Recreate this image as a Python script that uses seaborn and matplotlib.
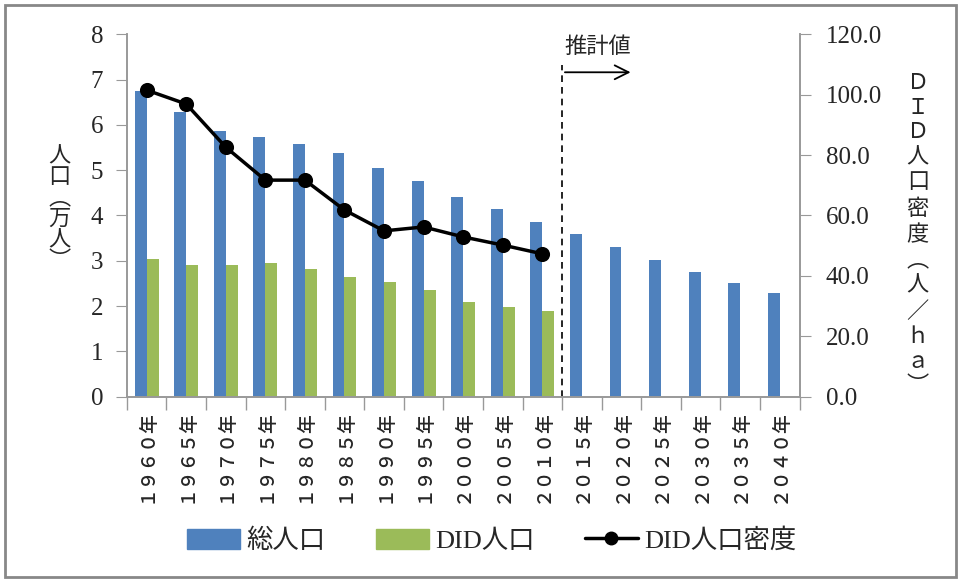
import numpy as np
import pandas as pd
import matplotlib
matplotlib.use('Agg')
import matplotlib.pyplot as plt
import seaborn as sns
from matplotlib.patches import Patch, Rectangle
from matplotlib.lines import Line2D

# data
years = ['１９６０年', '１９６５年', '１９７０年', '１９７５年', '１９８０年', '１９８５年',
         '１９９０年', '１９９５年', '２０００年', '２００５年', '２０１０年', '２０１５年',
         '２０２０年', '２０２５年', '２０３０年', '２０３５年', '２０４０年']
total_pop = [6.74, 6.28, 5.86, 5.73, 5.57, 5.37, 5.04, 4.76, 4.41, 4.14, 3.85,
             3.59, 3.30, 3.02, 2.75, 2.51, 2.29]
did_pop = [3.04, 2.91, 2.91, 2.95, 2.82, 2.65, 2.53, 2.36, 2.10, 1.99, 1.90]
did_density = [101.5, 96.9, 82.6, 71.7, 71.7, 61.8, 54.9, 56.2, 52.9, 50.2, 47.3]
series = ['総人口', 'DID人口', 'DID人口密度']

sns.set_style('white')
fam = ['Liberation Serif', 'Noto Sans CJK JP', 'DejaVu Sans']
plt.rcParams['font.family'] = fam

df = pd.concat([
    pd.DataFrame({'year': years, 'value': total_pop, 'series': series[0]}),
    pd.DataFrame({'year': years[:len(did_pop)], 'value': did_pop, 'series': series[1]}),
])

fig = plt.figure(figsize=(9.61, 5.8), dpi=100)
ax = fig.add_axes([0.132, 0.316, 0.700, 0.625])
ax2 = ax.twinx()

sns.barplot(data=df, x='year', y='value', hue='series', order=years,
            hue_order=series[:2], palette=['#4F81BD', '#9BBB59'], width=0.6,
            saturation=1, errorbar=None, linewidth=0, legend=False, ax=ax)
sns.pointplot(x=years[:len(did_density)], y=did_density, order=years, color='black',
              markersize=9, linewidth=2.5, errorbar=None, ax=ax2)

ax.set_ylim(0, 8)
ax.set_yticks(range(0, 9))
ax2.set_ylim(0, 120)
ax2.set_yticks(np.arange(0, 121, 20))
ax2.set_yticklabels([f'{v:.1f}' for v in np.arange(0, 121, 20)])
ax.set_xlim(-0.5, len(years) - 0.5)
ax.set_xticks(range(len(years)))
ax.set_xticklabels(years, rotation=90, fontsize=13.5, fontweight='medium')
ax.set_xticks(np.arange(-0.5, len(years), 1), minor=True)
ax.tick_params(axis='x', which='major', length=0, pad=9)
ax.tick_params(axis='x', which='minor', length=9, color='#999999', width=1, bottom=True)
ax.tick_params(axis='y', length=8, color='#999999', labelsize=18, left=True, pad=9)
ax2.tick_params(axis='y', length=8, color='#999999', labelsize=18, right=True, pad=11)
ax.set_xlabel('')
ax.set_ylabel('')
ax2.set_ylabel('')
ax2.set_xlabel('')

for a in (ax, ax2):
    a.spines['top'].set_visible(False)
    for s in ('left', 'right', 'bottom'):
        a.spines[s].set_color('#999999')
        a.spines[s].set_linewidth(1.2)
ax.grid(False)
ax2.grid(False)

# projection marker
ax.axvline(10.5, ymin=0, ymax=0.915, color='black', linestyle=(0, (4, 3)), linewidth=1.2)
ax.annotate('', xy=(12.3, 7.16), xytext=(10.5, 7.16),
            arrowprops=dict(arrowstyle='->', color='black', lw=1.3, mutation_scale=25))
ax.text(10.55, 7.7, '推計値', fontsize=16, va='center', ha='left')

# vertical axis titles
fig.text(0.062, 0.638, '\n'.join(['人', '口', '︵', '万', '人', '︶']),
         ha='center', va='center', fontsize=16, linespacing=1.13)
fig.text(0.955, 0.593, '\n'.join(['Ｄ', 'Ｉ', 'Ｄ', '人', '口', '密', '度', '︵', '人', '／', 'ｈ', 'ａ', '︶']),
         ha='center', va='center', fontsize=16, linespacing=1.4)

handles = [Patch(color='#4F81BD'), Patch(color='#9BBB59'),
           Line2D([], [], color='black', lw=2.5, marker='o', markersize=9)]
fig.legend(handles, series, loc='center', bbox_to_anchor=(0.512, 0.068), ncol=3,
           frameon=False, fontsize=19, handlelength=2.0, handleheight=0.8,
           columnspacing=1.9, handletextpad=0.25)

fig.patches.append(Rectangle((0.005, 0.006), 0.99, 0.985, transform=fig.transFigure,
                             fill=False, edgecolor='#888888', linewidth=2))

fig.savefig('out.png', dpi=100)
